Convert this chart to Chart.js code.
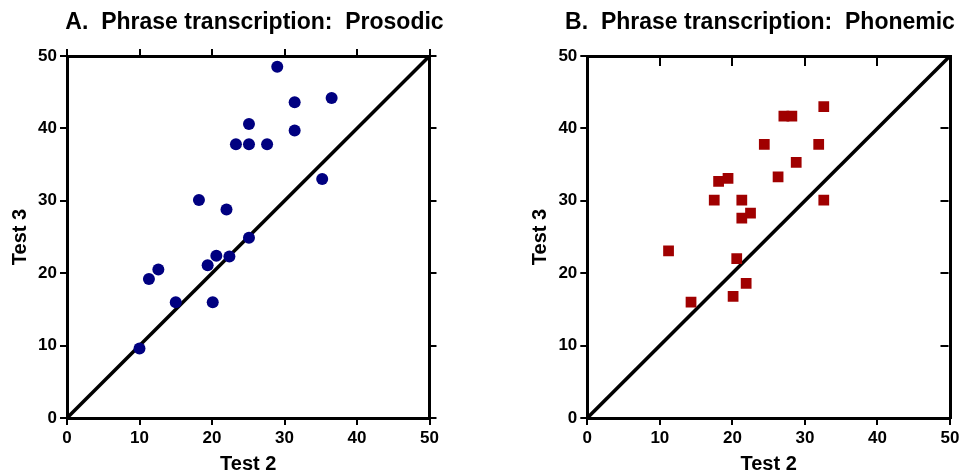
<!DOCTYPE html>
<html>
<head>
<meta charset="utf-8">
<script src="https://cdn.jsdelivr.net/npm/chart.js@4/dist/chart.umd.min.js"></script>
<style>
  html, body { margin: 0; padding: 0; background: #fff; overflow: hidden; }
  #wrapA { position: absolute; left: 0; top: 0; width: 520px; height: 474px; }
  #wrapB { position: absolute; left: 520px; top: 0; width: 444px; height: 474px; }
</style>
</head>
<body>
<div id="wrapA"><canvas id="chartA"></canvas></div>
<div id="wrapB"><canvas id="chartB"></canvas></div>
<script>
// ---- data ----
const titleA = "A.  Phrase transcription:  Prosodic";
const titleB = "B.  Phrase transcription:  Phonemic";
const xAxisTitle = "Test 2";
const yAxisTitle = "Test 3";
const axisMin = 0;
const axisMax = 50;
const axisStep = 10;
const identityLine = [0, 50];

const prosodicTest2 = [29.0, 31.4, 36.5, 25.1, 31.4, 23.3, 25.1, 27.6, 35.2, 18.2, 22.0, 25.1, 20.6, 22.4, 19.4, 12.6, 11.3, 15.0, 20.1, 10.0];
const prosodicTest3 = [48.5, 43.6, 44.2, 40.6, 39.7, 37.8, 37.8, 37.8, 33.0, 30.1, 28.8, 24.9, 22.4, 22.3, 21.1, 20.5, 19.2, 16.0, 16.0, 9.6];

const phonemicTest2 = [32.6, 27.1, 28.2, 24.4, 31.9, 28.8, 26.3, 18.1, 19.4, 17.5, 21.3, 32.6, 22.5, 21.3, 11.2, 20.6, 21.9, 14.3, 20.1];
const phonemicTest3 = [43.0, 41.7, 41.7, 37.8, 37.8, 35.3, 33.3, 32.7, 33.1, 30.1, 30.1, 30.1, 28.3, 27.6, 23.1, 22.0, 18.6, 16.0, 16.8];

// ---- rendering ----
const FONT = "'Liberation Sans', Arial, Helvetica, sans-serif";
Chart.defaults.font.family = FONT;
Chart.defaults.color = '#000';

function pairs(xs, ys) { return xs.map((x, i) => ({ x: x, y: ys[i] })); }

function makeChart(id, cfg) {
  const titlePlugin = {
    id: 'panelTitle',
    afterDraw(chart) {
      const ctx = chart.ctx;
      ctx.save();
      ctx.font = 'bold 23px ' + FONT;
      ctx.fillStyle = '#000';
      ctx.textAlign = 'center';
      ctx.textBaseline = 'alphabetic';
      ctx.fillText(cfg.title, cfg.titleX, 28.5);
      ctx.restore();
    }
  };
  const tickFont = { size: 17, weight: 'bold', family: FONT };
  const titleFont = { size: 20, weight: 'bold', family: FONT, lineHeight: 1 };
  const common = {
    type: 'linear', min: axisMin, max: axisMax,
    border: { display: true, color: '#000', width: 3 },
  };
  const ticksCfg = { stepSize: axisStep, font: tickFont, color: '#000', maxRotation: 0, autoSkip: false };
  const w = cfg.areaRight - cfg.areaLeft;

  return new Chart(document.getElementById(id), {
    type: 'scatter',
    data: {
      datasets: [
        {
          type: 'scatter',
          data: pairs(cfg.xs, cfg.ys),
          pointStyle: cfg.pointStyle,
          pointRadius: cfg.pointRadius,
          pointHoverRadius: cfg.pointRadius,
          backgroundColor: cfg.color,
          borderColor: cfg.color,
          borderWidth: 0,
        },
        {
          type: 'line',
          data: pairs(identityLine, identityLine),
          borderColor: '#000',
          borderWidth: 3.5,
          pointRadius: 0,
          fill: false,
        }
      ]
    },
    options: {
      responsive: true,
      maintainAspectRatio: false,
      animation: false,
      layout: { padding: 0 },
      plugins: { legend: { display: false }, tooltip: { enabled: false }, title: { display: false } },
      scales: {
        x: Object.assign({}, common, {
          position: 'bottom',
          grid: { display: true, drawOnChartArea: false, drawTicks: true, tickLength: 7, color: '#000', lineWidth: 2, tickWidth: 2 },
          ticks: Object.assign({}, ticksCfg, { padding: 3 }),
          title: { display: true, text: xAxisTitle, font: titleFont, padding: { top: 0, bottom: 0 }, color: '#000' },
          afterFit(s) { s.height = 474 - 418; }
        }),
        y: Object.assign({}, common, {
          position: 'left',
          grid: { display: true, drawOnChartArea: false, drawTicks: true, tickLength: 7, color: '#000', lineWidth: 2, tickWidth: 2 },
          ticks: Object.assign({}, ticksCfg, { padding: 3 }),
          title: { display: true, text: yAxisTitle, font: titleFont, padding: { top: 10, bottom: 0 }, color: '#000' },
          afterFit(s) { s.width = cfg.areaLeft; }
        }),
        x2: Object.assign({}, common, {
          position: 'top',
          grid: cfg.inward
            ? { display: true, drawOnChartArea: true, drawTicks: false, color: '#000', lineWidth: 2 }
            : { display: true, drawOnChartArea: false, drawTicks: true, tickLength: 7, color: '#000', lineWidth: 2, tickWidth: 2 },
          border: cfg.inward
            ? { display: true, color: '#000', width: 3, dash: [8, 2000] }
            : { display: true, color: '#000', width: 3 },
          ticks: Object.assign({}, ticksCfg, { display: false }),
          afterFit(s) { s.height = 56; }
        }),
        y2: Object.assign({}, common, {
          position: 'right',
          grid: cfg.inward
            ? { display: true, drawOnChartArea: true, drawTicks: false, color: '#000', lineWidth: 2 }
            : { display: true, drawOnChartArea: false, drawTicks: true, tickLength: 7, color: '#000', lineWidth: 2, tickWidth: 2 },
          border: cfg.inward
            ? { display: true, color: '#000', width: 3, dash: [0, w - 1.5 - 8, 8, 2000] }
            : { display: true, color: '#000', width: 3 },
          ticks: Object.assign({}, ticksCfg, { display: false }),
          afterFit(s) { s.width = cfg.canvasW - cfg.areaRight; }
        })
      }
    },
    plugins: [titlePlugin]
  });
}

makeChart('chartA', {
  title: titleA, titleX: 254.5,
  xs: prosodicTest2, ys: prosodicTest3,
  pointStyle: 'circle', pointRadius: 6, color: '#000080',
  areaLeft: 67, areaRight: 429.5, canvasW: 520, inward: false
});
makeChart('chartB', {
  title: titleB, titleX: 240,
  xs: phonemicTest2, ys: phonemicTest3,
  pointStyle: 'rect', pointRadius: 7.6, color: '#a00000',
  areaLeft: 67.3, areaRight: 430, canvasW: 444, inward: true
});
</script>
</body>
</html>
